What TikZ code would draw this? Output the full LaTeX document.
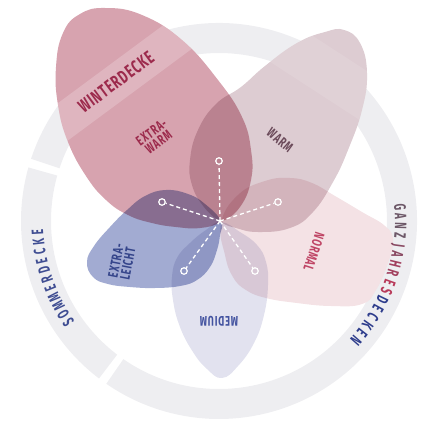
\documentclass[tikz,border=0pt]{standalone}
\usepackage{fontspec}
\newfontfamily\lab{Fira Sans}[FakeStretch=0.66,LetterSpace=6]
\newfontfamily\labr{Fira Sans}[FakeStretch=0.6]
\newcommand\labf[1]{\lab\bfseries\fontsize{#1}{#1}\selectfont}
\newcommand\labrf[1]{\labr\bfseries\fontsize{#1}{#1}\selectfont}
\definecolor{ringc}{HTML}{EEEEF1}
\definecolor{redp}{HTML}{D7A3AF}
\definecolor{warmp}{HTML}{DDCCD2}
\definecolor{normp}{HTML}{F4E2E5}
\definecolor{medp}{HTML}{E2E2EF}
\definecolor{bluep}{HTML}{A2ABD2}
\definecolor{wtxt}{HTML}{9C2A4C}
\definecolor{warmtxt}{HTML}{6B4A5A}
\definecolor{normtxt}{HTML}{BF4565}
\definecolor{medtxt}{HTML}{4353A0}
\definecolor{bluetxt}{HTML}{34448A}
\definecolor{somtxt}{HTML}{3F4D92}
\definecolor{gz}{HTML}{6D5868}
\definecolor{ja}{HTML}{8A4A63}
\definecolor{jb}{HTML}{A2415F}
\definecolor{jc}{HTML}{B83A5A}
\definecolor{dk}{HTML}{2E3D8C}
\def\redpath{plot[smooth cycle,tension=0.75] coordinates {(221,222) (240,207) (251,180) (251,150) (242,117) (218,80) (182,40) (142,15) (106,8) (80,14) (63,33) (56,67) (58,105) (68,142) (86,176) (106,200) (128,215) (152,223) (176,227) (200,228)}}
\def\warmpath{plot[smooth cycle,tension=0.75] coordinates {(221,222) (204,207) (192,185) (190,160) (198,130) (216,104) (241,87) (265,66) (297,43) (325,32) (344,30) (360,43) (367,73) (362,110) (348,150) (333,182) (313,212) (290,228) (258,232) (236,228)}}
\def\normpath{plot[smooth cycle,tension=0.75] coordinates {(221,223) (238,195) (265,181) (290,178) (312,183) (335,196) (362,212) (385,226) (393,240) (388,263) (376,290) (362,304) (331,306) (297,303) (266,298) (246,290) (233,277) (225,255)}}
\def\medpath{plot[smooth cycle,tension=0.75] coordinates {(221,222) (240,232) (257,245) (266,262) (268,285) (264,315) (254,343) (238,366) (222,378) (207,369) (193,352) (180,327) (173,300) (172,277) (177,258) (190,243) (206,230)}}
\def\bluepath{plot[smooth cycle,tension=0.75] coordinates {(221,221) (205,204) (188,194) (166,190) (145,196) (127,210) (110,227) (94,246) (87,262) (93,277) (108,284) (130,287) (155,288) (180,286) (197,280) (210,267) (217,250) (220,235)}}
\begin{document}
\begin{tikzpicture}[x=1pt,y=-1pt,
  petal/.style={blend mode=multiply},
  lbl/.style={inner sep=0pt},
  dotc/.style={circle,draw=white,line width=1.2pt,inner sep=0pt,minimum size=6.5pt},
  dashl/.style={white,line width=1.3pt,dash pattern=on 4pt off 3pt},
  ringlet/.style={inner sep=0pt,anchor=base,font=\labrf{16.5}}]
\useasboundingbox (0,0) rectangle (429,421);
% ring
\begin{scope}[shift={(219,221)}]
  \fill[ringc] (127.3:198) arc[start angle=127.3,end angle=195.7,radius=198] -- (195.7:168) arc[start angle=195.7,end angle=127.3,radius=168] -- cycle;
  \fill[ringc] (198.3:198) arc[start angle=198.3,end angle=484.7,radius=198] -- (484.7:168) arc[start angle=484.7,end angle=198.3,radius=168] -- cycle;
\end{scope}
% white under-fills
\fill[white] \redpath;
\fill[white] \warmpath;
\fill[white] \normpath;
\fill[white] \medpath;
\fill[white] \bluepath;
% petals
\fill[redp,petal] \redpath;
\fill[warmp,petal] \warmpath;
\fill[normp,petal] \normpath;
\fill[medp,petal] \medpath;
\fill[bluep,petal] \bluepath;
% bands
\begin{scope}
  \clip \redpath;
  \fill[white,opacity=0.2,rotate around={36.5:(114,84)}] (0,66) rectangle (230,102);
\end{scope}
\begin{scope}
  \clip \warmpath;
  \fill[white,opacity=0.1,rotate around={-33:(324,70)}] (224,47.5) rectangle (424,92.5);
\end{scope}
% dashed spokes
\coordinate (ctr) at (220,221);
\node[dotc] (p1) at (219,161) {};
\node[dotc] (p2) at (162,202) {};
\node[dotc] (p3) at (278,202) {};
\node[dotc] (p4) at (184,271) {};
\node[dotc] (p5) at (255,271) {};
\foreach \p in {p1,p2,p3,p4,p5} \draw[dashl] (ctr) -- (\p);
\fill[white] (ctr) circle (1.6);
% petal labels
\node[lbl,text=wtxt,font=\labf{18.5},rotate=36.5] (tw) at (116,82) {WINTERDECKE};
\node[lbl,text=wtxt,font=\labf{14},rotate=35.5,align=center] (tew) at (155,137) {EXTRA-\\[-2pt]WARM};
\node[lbl,text=warmtxt,font=\labf{14},rotate=-39] (twa) at (280,140) {WARM};
\node[lbl,text=normtxt,font=\labf{14},rotate=-108] (tno) at (314,252) {NORMAL};
\node[lbl,text=medtxt,font=\labf{14},rotate=180] (tme) at (219,321) {MEDIUM};
\node[lbl,text=bluetxt,font=\labf{14},rotate=79,align=left] (tel) at (122,262) {EXTRA-\\[-2pt]LEICHT};
% ring labels
\begin{scope}[shift={(219,221)}]
  \foreach \ch [count=\i from 0] in {S,O,M,M,E,R,D,E,C,K,E}{
    \pgfmathsetmacro\ang{146+3.05*\i}
    \node[ringlet,text=somtxt,rotate={-\ang-90}] (s\i) at (\ang:176) {\ch};
  }
  \foreach \ch/\col [count=\i from 0] in {G/gz,A/gz,N/gz,Z/gz,J/ja,A/ja,H/jb,R/jb,E/jc,S/jc,D/dk,E/dk,C/dk,K/dk,E/dk,N/dk}{
    \pgfmathsetmacro\ang{-4.4+3.03*\i}
    \node[ringlet,text=\col,rotate={-\ang-90}] (g\i) at (\ang:176) {\ch};
  }
\end{scope}
\end{tikzpicture}
\end{document}
